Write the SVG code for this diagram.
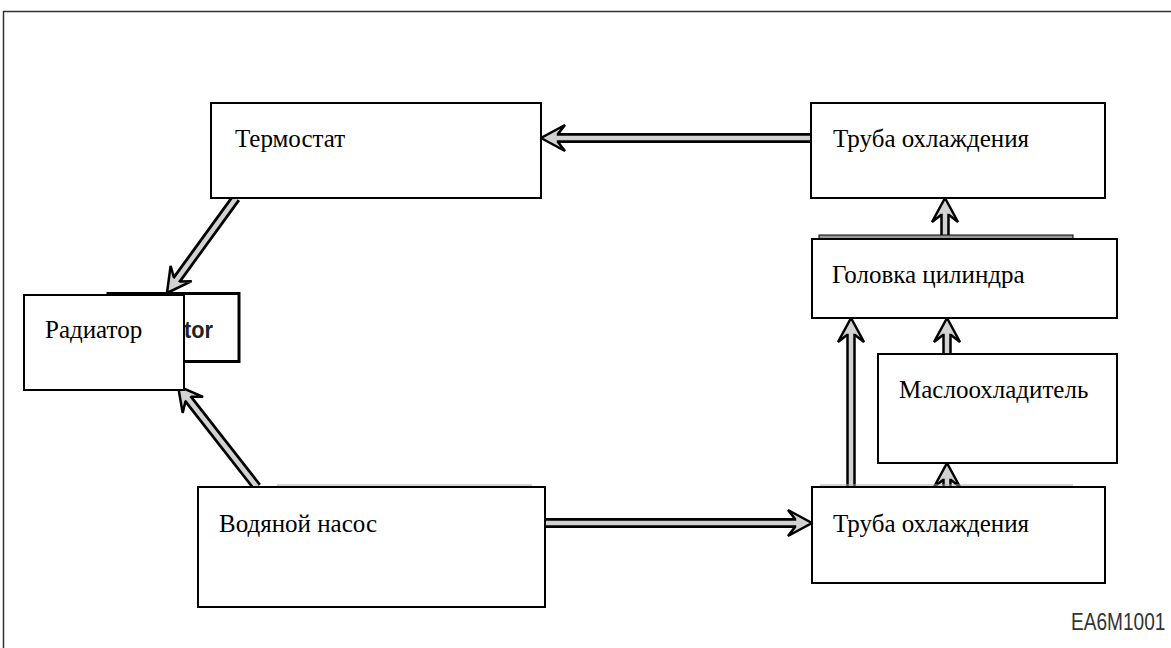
<svg xmlns="http://www.w3.org/2000/svg" xmlns:xlink="http://www.w3.org/1999/xlink" width="1171" height="648" viewBox="0 0 1171 648">
<style>
.box{fill:#fff;stroke:#000;stroke-width:2}
.lbl{font-family:"Liberation Serif","Times New Roman",serif;font-size:25px;fill:#000}
.so{stroke:#000;stroke-width:10;fill:none}
.sov{stroke:#000;stroke-width:9.5;fill:none}
.si{stroke:#d2d2d2;stroke-width:4.5;fill:none}
.head{fill:#d2d2d2;stroke:#000;stroke-width:2.5;stroke-linejoin:miter}
.faint{stroke:#aaa;stroke-width:1.2;fill:none}
</style>
<defs>
<path id="hd" d="M0,0 L-24,-13 L-17,-4 L-17,4 L-24,13 Z"/>
</defs>
<rect width="1171" height="648" fill="#fff"/>
<path d="M3.5,648 V11.5 H1171" fill="none" stroke="#333" stroke-width="1.5"/>
<g id="connectors">
  <line class="so" x1="811" y1="138" x2="557" y2="138"/>
  <use xlink:href="#hd" class="head" transform="translate(541,138) rotate(180)"/>
  <line class="si" x1="811" y1="138" x2="553" y2="138"/>
  <line class="so" x1="545" y1="523" x2="796" y2="523"/>
  <use xlink:href="#hd" class="head" transform="translate(812,523)"/>
  <line class="si" x1="545" y1="523" x2="800" y2="523"/>
  <line class="sov" x1="851" y1="487" x2="851" y2="334"/>
  <use xlink:href="#hd" class="head" transform="translate(851,318) rotate(-90)"/>
  <line class="si" x1="851" y1="487" x2="851" y2="330"/>
  <line class="sov" x1="947" y1="354" x2="947" y2="334"/>
  <use xlink:href="#hd" class="head" transform="translate(947,318) rotate(-90)"/>
  <line class="si" x1="947" y1="354" x2="947" y2="330"/>
  <line class="sov" x1="947" y1="487" x2="947" y2="479"/>
  <use xlink:href="#hd" class="head" transform="translate(947,463) rotate(-90)"/>
  <line class="si" x1="947" y1="487" x2="947" y2="475"/>
  <line class="sov" x1="945" y1="236" x2="945" y2="214"/>
  <use xlink:href="#hd" class="head" transform="translate(945,198) rotate(-90)"/>
  <line class="si" x1="945" y1="236" x2="945" y2="210"/>
  <line class="so" x1="236" y1="198" x2="177" y2="279.2"/>
  <use xlink:href="#hd" class="head" transform="translate(167,293) rotate(126)"/>
  <line class="si" x1="236" y1="198" x2="174.1" y2="283.3"/>
  <line class="so" x1="257" y1="487" x2="188.5" y2="399.3"/>
  <use xlink:href="#hd" class="head" transform="translate(178,386) rotate(-128.3)"/>
  <line class="si" x1="257" y1="487" x2="185.4" y2="395.4"/>
</g>
<g id="thermostat">
  <rect class="box" x="211" y="103" width="330" height="95"/>
  <text class="lbl" x="235" y="147">Термостат</text>
</g>
<g id="pipe-top">
  <rect class="box" x="811" y="103" width="294" height="95"/>
  <text class="lbl" x="833" y="147">Труба охлаждения</text>
</g>
<g id="cylinder-head">
  <rect x="819" y="235" width="254" height="4" fill="#999" stroke="#000" stroke-width="1"/>
  <rect class="box" x="812" y="239" width="305" height="79"/>
  <text class="lbl" x="832" y="283">Головка цилиндра</text>
</g>
<g id="oil-cooler">
  <rect class="box" x="878" y="354" width="239" height="109"/>
  <text class="lbl" x="899" y="398">Маслоохладитель</text>
</g>
<g id="pipe-bottom">
  <line class="faint" x1="820" y1="485" x2="1073" y2="485"/>
  <rect class="box" x="812" y="487" width="293" height="96"/>
  <text class="lbl" x="833" y="532">Труба охлаждения</text>
</g>
<g id="water-pump">
  <line class="faint" x1="277" y1="485" x2="532" y2="485"/>
  <rect class="box" x="198" y="487" width="347" height="120"/>
  <text class="lbl" x="219" y="532">Водяной насос</text>
</g>
<g id="radiator">
  <rect x="108" y="293.5" width="131" height="68" fill="#fff" stroke="#000" stroke-width="3"/>
  <text x="184" y="338" font-family="Liberation Sans, Arial, sans-serif" font-weight="bold" font-size="23" fill="#222" textLength="29" lengthAdjust="spacingAndGlyphs">tor</text>
  <rect class="box" x="24" y="295" width="160" height="95"/>
  <text class="lbl" x="45" y="338">Радиатор</text>
</g>
<text transform="translate(1071,630) scale(0.83,1)" font-family="Liberation Sans, Arial, sans-serif" font-size="23" fill="#333">EA6M1001</text>
</svg>
